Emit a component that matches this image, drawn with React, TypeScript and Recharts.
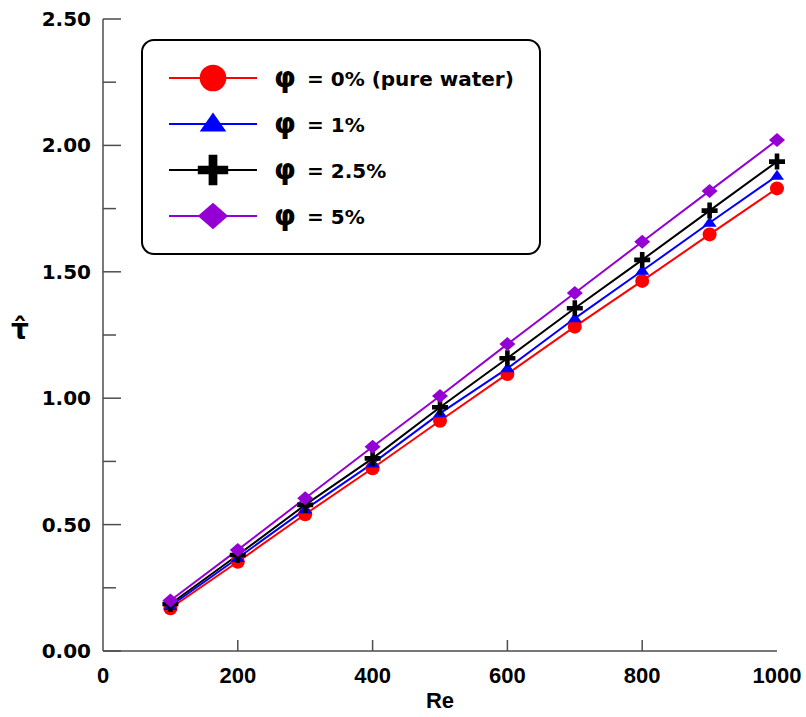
import React from 'react';
import { LineChart, Line, XAxis, YAxis, Legend } from 'recharts';

// Re on the x axis, dimensionless shear stress on the y axis
const reynolds = [100, 200, 300, 400, 500, 600, 700, 800, 900, 1000];
const tauWater = [0.169, 0.353, 0.541, 0.723, 0.911, 1.096, 1.283, 1.464, 1.648, 1.83];
const tauPhi1 = [0.178, 0.368, 0.56, 0.742, 0.94, 1.118, 1.316, 1.504, 1.694, 1.88];
const tauPhi25 = [0.186, 0.38, 0.578, 0.762, 0.964, 1.158, 1.356, 1.547, 1.742, 1.936];
const tauPhi5 = [0.2, 0.4, 0.604, 0.808, 1.009, 1.214, 1.416, 1.619, 1.82, 2.021];

const xTicks = [0, 200, 400, 600, 800, 1000];
const yTicks = [0, 0.25, 0.5, 0.75, 1, 1.25, 1.5, 1.75, 2, 2.25, 2.5];

const legendLabels = ['= 0% (pure water)', '= 1%', '= 2.5%', '= 5%'];

const data = reynolds.map((re, i) => ({
  re,
  water: tauWater[i],
  phi1: tauPhi1[i],
  phi25: tauPhi25[i],
  phi5: tauPhi5[i],
}));

const AXIS = '#4d4d4d';
const RED = '#ff0000';
const BLUE = '#0000ff';
const BLACK = '#000000';
const PURPLE = '#9400d3';
const SANS = '"DejaVu Sans", sans-serif';
const ARIAL = '"Liberation Sans", Arial, sans-serif';

type Shape = 'circle' | 'triangle' | 'plus' | 'diamond';

const marker = (shape: Shape, cx: number, cy: number, s: number, color: string, key?: any) => {
  if (shape === 'circle') return <circle key={key} cx={cx} cy={cy} r={7 * s} fill={color} />;
  if (shape === 'triangle')
    return (
      <polygon
        key={key}
        points={`${cx - 7 * s},${cy + 4 * s} ${cx + 7 * s},${cy + 4 * s} ${cx},${cy - 6 * s}`}
        fill={color}
      />
    );
  if (shape === 'plus') {
    const h = 8 * s;
    const t = 2.3 * s;
    return (
      <path
        key={key}
        d={`M${cx - h},${cy - t}H${cx - t}V${cy - h}H${cx + t}V${cy - t}H${cx + h}V${cy + t}H${cx + t}V${cy + h}H${cx - t}V${cy + t}H${cx - h}Z`}
        fill={color}
      />
    );
  }
  return (
    <polygon
      key={key}
      points={`${cx - 8 * s},${cy} ${cx},${cy - 7 * s} ${cx + 8 * s},${cy} ${cx},${cy + 7 * s}`}
      fill={color}
    />
  );
};

const series: { key: string; color: string; shape: Shape }[] = [
  { key: 'water', color: RED, shape: 'circle' },
  { key: 'phi1', color: BLUE, shape: 'triangle' },
  { key: 'phi25', color: BLACK, shape: 'plus' },
  { key: 'phi5', color: PURPLE, shape: 'diamond' },
];

const YTick = (props: any) => {
  const { x, y, payload } = props;
  const axisX = x + 12;
  const v = payload.value;
  const major = Math.abs(v * 2 - Math.round(v * 2)) < 1e-6;
  return (
    <g>
      <line x1={axisX} x2={axisX + (major ? 18 : 13)} y1={y} y2={y} stroke={AXIS} strokeWidth={1.5} />
      {major && (
        <text x={x} y={y + 7} textAnchor="end" fontFamily={SANS} fontWeight="bold" fontSize={20} fill="#000">
          {v.toFixed(2)}
        </text>
      )}
    </g>
  );
};

const XTick = (props: any) => {
  const { x, y, payload } = props;
  const v = payload.value;
  return (
    <g>
      {v > 0 && v < 1000 && <line x1={x} x2={x} y1={y} y2={y - 11} stroke={AXIS} strokeWidth={1.5} />}
      <text x={x} y={y + 32} textAnchor="middle" fontFamily={ARIAL} fontWeight="bold" fontSize={22} fill="#000">
        {v}
      </text>
    </g>
  );
};

const YLabel = (props: any) => {
  const { viewBox } = props;
  const cx = viewBox.x + 20;
  const cy = viewBox.y + viewBox.height / 2;
  return (
    <text x={cx} y={cy + 4} textAnchor="middle" fontFamily={SANS} fontWeight="bold" fontSize={28} fill="#000">
      τ̂
    </text>
  );
};

const XLabel = (props: any) => {
  const { viewBox } = props;
  return (
    <text
      x={viewBox.x + viewBox.width / 2}
      y={viewBox.y + 57}
      textAnchor="middle"
      fontFamily={ARIAL}
      fontWeight="bold"
      fontSize={22}
      fill="#000"
    >
      Re
    </text>
  );
};

const renderLegend = () => (
  <svg width={400} height={216} style={{ display: 'block' }}>
    <rect x={1} y={1} width={398} height={214} rx={12} ry={12} fill="#fff" stroke="#000" strokeWidth={2} />
    {series.map((s, i) => {
      const ry = 39 + i * 46;
      return (
        <g key={s.key}>
          <line x1={28} x2={116} y1={ry} y2={ry} stroke={s.color} strokeWidth={2} />
          {marker(s.shape, 72, ry, 1.9, s.color)}
          <text x={133} y={ry + 9} fontFamily={SANS} fontWeight="bold" fontSize={28} fill="#000">
            φ
          </text>
          <text x={166} y={ry + 8} fontFamily={SANS} fontWeight="bold" fontSize={20} fill="#000">
            {legendLabels[i]}
          </text>
        </g>
      );
    })}
  </svg>
);

export default function App() {
  return (
    <div style={{ position: 'absolute', left: 0, top: 0, background: '#fff' }}>
      <LineChart width={806} height={717} data={data} margin={{ top: 19, right: 29, bottom: 0, left: 0 }}>
        <XAxis
          dataKey="re"
          type="number"
          domain={[0, 1000]}
          ticks={xTicks}
          height={66}
          tickLine={false}
          tickSize={0}
          tickMargin={0}
          tick={<XTick />}
          axisLine={{ stroke: AXIS, strokeWidth: 1.5 }}
          label={<XLabel />}
        />
        <XAxis
          xAxisId="top"
          orientation="top"
          type="number"
          domain={[0, 1000]}
          height={0}
          tick={false}
          tickLine={false}
          axisLine={{ stroke: AXIS, strokeWidth: 1.5 }}
        />
        <YAxis
          type="number"
          domain={[0, 2.5]}
          ticks={yTicks}
          width={103}
          tickLine={false}
          tickSize={0}
          tickMargin={12}
          tick={<YTick />}
          axisLine={{ stroke: AXIS, strokeWidth: 1.5 }}
          label={<YLabel />}
        />
        <YAxis
          yAxisId="right"
          orientation="right"
          type="number"
          domain={[0, 2.5]}
          width={0}
          tick={false}
          tickLine={false}
          axisLine={{ stroke: AXIS, strokeWidth: 1.5 }}
        />
        <Legend
          content={renderLegend}
          layout="vertical"
          align="center"
          verticalAlign="middle"
          wrapperStyle={{ position: 'absolute', left: 141, top: 39, width: 400, height: 216 }}
        />
        {series.map((s) => (
          <Line
            key={s.key}
            dataKey={s.key}
            stroke={s.color}
            strokeWidth={2}
            isAnimationActive={false}
            dot={(p: any) => marker(s.shape, p.cx, p.cy, 1, s.color, `${s.key}-${p.index}`)}
            activeDot={false}
          />
        ))}
      </LineChart>
    </div>
  );
}
